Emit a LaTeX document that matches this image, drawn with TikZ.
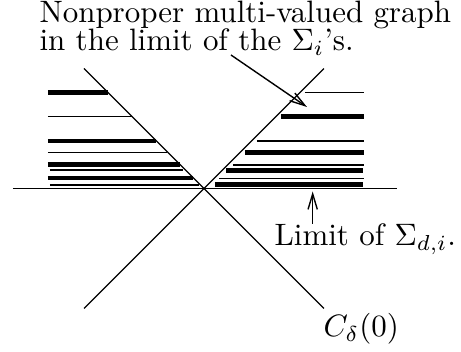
\documentclass[tikz,border=0pt]{standalone}
\usetikzlibrary{arrows.meta}
\begin{document}
\begin{tikzpicture}[x=0.323pt,y=-0.323pt,
  thinbar/.style={line width=0.45pt},
  thickbar/.style={line width=1.5pt},
  axisline/.style={line width=0.45pt},
  lbl/.style={inner sep=0pt,anchor=base west},
  pointer/.style={line width=0.45pt,-{Straight Barb[length=5pt,width=3pt]}}]
\useasboundingbox (0,0) rectangle (461,352);
% texts
\node[lbl] (t1) at (39,22.7) {Nonproper multi-valued graph};
\node[lbl] (t2) at (39,51) {in the limit of the $\Sigma_i$'s.};
\node[lbl] (t3) at (274,246) {Limit of $\Sigma_{d,i}$.};
\node[lbl] (t4) at (323,337) {$C_\delta(0)$};
% axis and cone
\coordinate (ax1) at (13,188.5);
\coordinate (ax2) at (397,188.5);
\coordinate (c1) at (84,68.5);
\coordinate (c2) at (324,308.5);
\coordinate (c3) at (324,68.5);
\coordinate (c4) at (84,308.5);
\draw[axisline] (ax1) -- (ax2);
\draw[axisline] (c1) -- (c2);
\draw[axisline] (c3) -- (c4);
% left bars
\draw[thickbar] (48,92.7) -- (108,92.7);
\draw[thinbar] (48,116.7) -- (132,116.7);
\draw[thickbar] (48,141) -- (156,141);
\draw[thinbar] (48,152.7) -- (167,152.7);
\draw[thickbar] (48,164.7) -- (180,164.7);
\draw[thinbar] (50,170) -- (183,170);
\draw[thickbar] (48,178) -- (193,178);
\draw[thinbar] (50,185) -- (199,185);
% right bars
\draw[thinbar] (305,92.7) -- (364,92.7);
\draw[thickbar] (281,116.7) -- (364,116.7);
\draw[thinbar] (257,141) -- (364,141);
\draw[thickbar] (245,152.7) -- (364,152.7);
\draw[thinbar] (233,165) -- (364,165);
\draw[thickbar] (226,170.7) -- (363,170.7);
\draw[thinbar] (219,178.3) -- (364,178.3);
\draw[thickbar] (215,184.7) -- (363,184.7);
% pointers
\coordinate (p1s) at (231,55);
\coordinate (p1e) at (307,107);
\coordinate (p2s) at (312.7,224);
\coordinate (p2e) at (312.7,191.5);
\draw[pointer] (p1s) -- (p1e);
\draw[pointer] (p2s) -- (p2e);
\end{tikzpicture}
\end{document}
